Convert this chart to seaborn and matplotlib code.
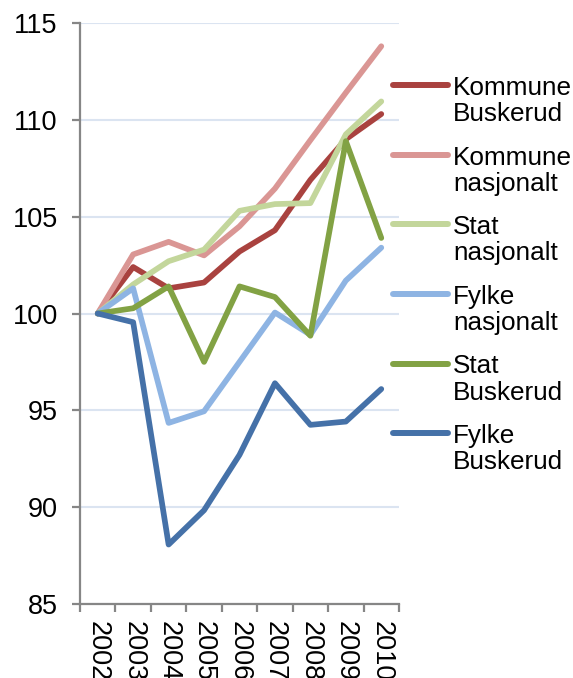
import matplotlib
matplotlib.use("Agg")
import matplotlib.pyplot as plt
import numpy as np
import pandas as pd
import seaborn as sns

years = [2002, 2003, 2004, 2005, 2006, 2007, 2008, 2009, 2010]
series_names = ["Kommune\nBuskerud", "Kommune\nnasjonalt", "Stat\nnasjonalt",
                "Fylke\nnasjonalt", "Stat\nBuskerud", "Fylke\nBuskerud"]

kommune_buskerud = [100, 102.4, 101.3, 101.6, 103.2, 104.3, 106.9, 109.0, 110.3]
kommune_nasjonalt = [100, 103.05, 103.7, 103.0, 104.5, 106.45, 108.95, 111.4, 113.8]
stat_nasjonalt = [100, 101.5, 102.7, 103.3, 105.3, 105.65, 105.7, 109.25, 110.95]
fylke_nasjonalt = [100, 101.3, 94.35, 94.95, 97.5, 100.05, 98.9, 101.7, 103.4]
stat_buskerud = [100, 100.27, 101.4, 97.5, 101.4, 100.85, 98.85, 108.9, 103.9]
fylke_buskerud = [100, 99.55, 88.07, 89.84, 92.7, 96.4, 94.25, 94.42, 96.1]

colors = ["#a9423f", "#da9694", "#c3d69b", "#8eb4e3", "#82a244", "#4571a8"]

y_ticks = [85, 90, 95, 100, 105, 110, 115]

all_values = [kommune_buskerud, kommune_nasjonalt, stat_nasjonalt,
              fylke_nasjonalt, stat_buskerud, fylke_buskerud]
df = pd.concat([pd.DataFrame({"year": years, "value": vals, "series": name})
                for name, vals in zip(series_names, all_values)], ignore_index=True)

sns.set_style("white")
plt.rcParams['font.family'] = ['Liberation Sans', 'DejaVu Sans']
plt.rcParams['text.color'] = 'black'
plt.rcParams['xtick.color'] = 'black'
plt.rcParams['ytick.color'] = 'black'

fig = plt.figure(figsize=(5.73, 6.78), dpi=100)
ax = fig.add_axes([80/573, 1 - 604/678, (399 - 80)/573, (604 - 23)/678])

sns.lineplot(data=df, x="year", y="value", hue="series", hue_order=series_names,
             palette=colors, linewidth=4.1, ax=ax)
for line in ax.get_lines():
    line.set_solid_capstyle("round")
    line.set_solid_joinstyle("round")

ax.set_xlim(2001.5, 2010.5)
ax.set_ylim(85, 115)
ax.set_yticks(y_ticks)
ax.set_xticks(np.arange(2001.5, 2011, 1))
ax.set_xticklabels([])
ax.set_xticks(years, minor=True)
ax.set_xticklabels([str(y) for y in years], minor=True, rotation=270)
ax.set_xlabel("")
ax.set_ylabel("")

ax.yaxis.grid(True, color="#dbe4f1", linewidth=1.5)
ax.set_axisbelow(True)
for side in ["top", "right"]:
    ax.spines[side].set_visible(False)
for side in ["left", "bottom"]:
    ax.spines[side].set_color("#868686")
    ax.spines[side].set_linewidth(1.6)

ax.tick_params(axis="y", which="major", direction="out", length=6, width=1.6,
               color="#868686", labelcolor="black", labelsize=19.5, pad=10, left=True)
ax.tick_params(axis="x", which="major", direction="out", length=6, width=1.6,
               color="#868686", bottom=True)
ax.tick_params(axis="x", which="minor", length=0, labelsize=19.5, labelcolor="black", pad=12)

handles, labels = ax.get_legend_handles_labels()
ax.get_legend().remove()
leg = fig.legend(handles, labels, loc="upper left",
                 bbox_to_anchor=(393/573, 1 - 76/678), frameon=False,
                 fontsize=18.8, handlelength=2.1, handletextpad=0.2,
                 labelspacing=0.74, borderpad=0, borderaxespad=0)
for h in leg.legend_handles:
    h.set_linewidth(4.3)
    h.set_solid_capstyle("round")
for t in leg.get_texts():
    t.set_linespacing(1.12)
    t.set_color("black")
for col in leg._legend_handle_box.get_children():
    for row in col.get_children():
        row.align = "top"

fig.savefig("out.png", dpi=100)
